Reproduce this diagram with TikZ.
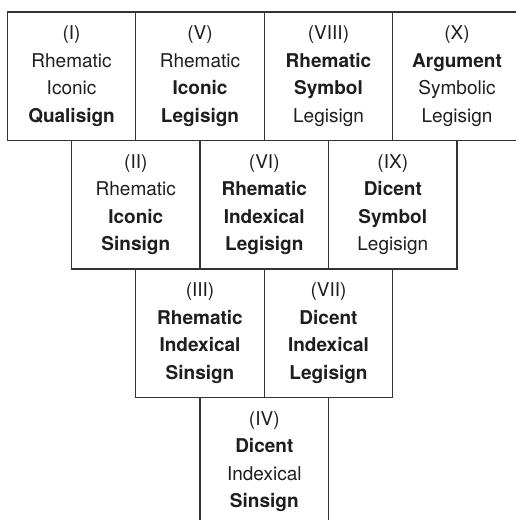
\documentclass[tikz,border=0pt]{standalone}
\usepackage{fontspec}
\setmainfont{TeX Gyre Heros}
\definecolor{ink}{HTML}{1E1E1E}
\definecolor{frame}{HTML}{333333}
\begin{document}
\begin{tikzpicture}[x=1pt,y=1pt,
  cell/.style={draw=frame, line width=1.2pt, minimum width=128.5pt, minimum height=128.5pt,
    inner sep=0pt, align=center, text=ink, text width=126pt,
    font=\fontsize{19}{27.5}\selectfont},
]
\clip (0,0) rectangle (516,520);
\fill[white] (0,0) rectangle (516,520);
% row 1
\node[cell] (n1) at (71.55,443.75) {(I)\\Rhematic\\Iconic\\\textbf{Qualisign}};
\node[cell] (n5) at (200,443.75) {(V)\\Rhematic\\\textbf{Iconic}\\\textbf{Legisign}};
\node[cell] (n8) at (328.5,443.75) {(VIII)\\\textbf{Rhematic}\\\textbf{Symbol}\\Legisign};
\node[cell] (n10) at (457,443.75) {(X)\\\textbf{Argument}\\Symbolic\\Legisign};
% row 2
\node[cell] (n2) at (135.8,315.25) {(II)\\Rhematic\\\textbf{Iconic}\\\textbf{Sinsign}};
\node[cell] (n6) at (264.3,315.25) {(VI)\\\textbf{Rhematic}\\\textbf{Indexical}\\\textbf{Legisign}};
\node[cell] (n9) at (392.8,315.25) {(IX)\\\textbf{Dicent}\\\textbf{Symbol}\\Legisign};
% row 3
\node[cell] (n3) at (200,186.75) {(III)\\\textbf{Rhematic}\\\textbf{Indexical}\\\textbf{Sinsign}};
\node[cell] (n7) at (328.5,186.75) {(VII)\\\textbf{Dicent}\\\textbf{Indexical}\\\textbf{Legisign}};
% row 4
\node[cell] (n4) at (264.3,58.25) {(IV)\\\textbf{Dicent}\\Indexical\\\textbf{Sinsign}};
\end{tikzpicture}
\end{document}
